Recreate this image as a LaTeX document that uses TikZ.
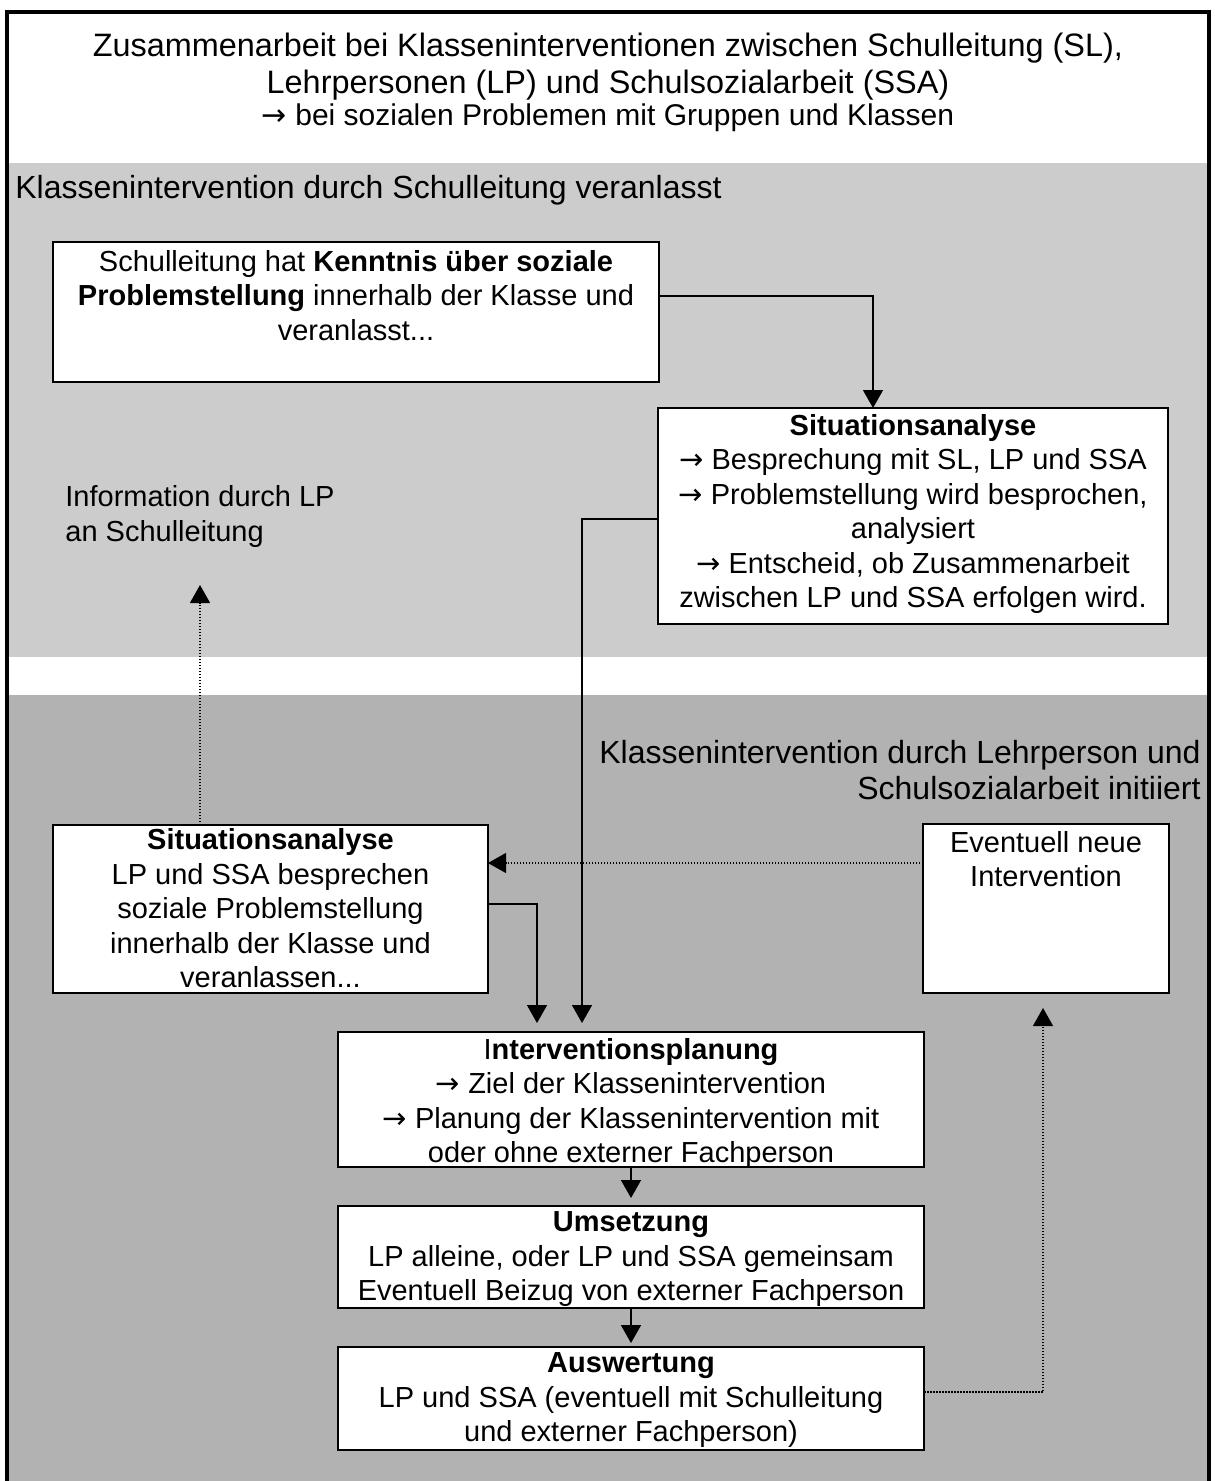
\documentclass[tikz,border=0pt]{standalone}
\usepackage{fontspec}
\setmainfont{Liberation Sans}
\newfontfamily\arrowfont{DejaVu Sans}
\usetikzlibrary{arrows.meta}
\definecolor{paleband}{gray}{0.8}
\definecolor{darkband}{gray}{0.7}
\newcommand{\bodyfont}{\fontsize{14.5}{17.2}\selectfont}
\newcommand{\headfont}{\fontsize{16}{17.5}\selectfont}
\newcommand{\pfeil}{{\arrowfont →}}
\tikzset{box/.style={draw,line width=1pt,fill=white,anchor=north west,outer sep=0pt,inner xsep=2pt,inner ysep=0pt,align=center,font=\bodyfont},
  flow/.style={line width=0.75pt,-{Triangle[length=9pt,width=10pt]}},
  hint/.style={line width=0.6pt,dash pattern=on 0.75pt off 0.75pt,-{Triangle[length=9pt,width=10pt]}},
  lbl/.style={inner sep=0pt,font=\headfont}}

\begin{document}
\begin{tikzpicture}[x=0.5pt,y=-0.5pt]
\useasboundingbox (0,0) rectangle (1214,1481);
\fill[white] (0,0) rectangle (1214,1481);
\fill[paleband] (7,163) rectangle (1209,657); \fill[darkband] (7,695) rectangle (1209,1490);
\draw[line width=2pt] (7,1490) -- (7,12) -- (1209,12) -- (1209,1490);
% headings
\node[lbl,anchor=base,align=center,font=\fontsize{16.2}{17.5}\selectfont] (title) at (608,126) {Zusammenarbeit bei Klasseninterventionen zwischen Schulleitung (SL),\\[1pt]Lehrpersonen (LP) und Schulsozialarbeit (SSA)\\[-1.5pt]{\fontsize{15}{16}\selectfont \pfeil{} bei sozialen Problemen mit Gruppen und Klassen}};
\node[lbl,anchor=base west] (schulleitung) at (15,199) {Klassenintervention durch Schulleitung veranlasst};
\node[lbl,anchor=base east,align=right] (initiiert) at (1201,799) {Klassenintervention durch Lehrperson und\\[0.5pt]Schulsozialarbeit initiiert};
\node[lbl,anchor=base west,align=left,font=\bodyfont] (info) at (65,541) {Information durch LP\\an Schulleitung};
\coordinate (infotip) at (200,585);
% boxes
\node[box,minimum width=303pt,text height=49.2pt,text depth=20.8pt] (kenntnis) at (53,242) {Schulleitung hat \textbf{Kenntnis über soziale}\\\textbf{Problemstellung} innerhalb der Klasse und\\veranlasst...};
\node[box,minimum width=255pt,text height=99.7pt,text depth=8.3pt] (analyseSL) at (658,408) {\textbf{Situationsanalyse}\\\pfeil{} Besprechung mit SL, LP und SSA\\\pfeil{} Problemstellung wird besprochen,\\analysiert\\\pfeil{} Entscheid, ob Zusammenarbeit\\zwischen LP und SSA erfolgen wird.};
\node[box,minimum width=217.5pt,text height=81.2pt,text depth=2.8pt] (analyseLP) at (53,825) {\textbf{Situationsanalyse}\\LP und SSA besprechen\\soziale Problemstellung\\innerhalb der Klasse und\\veranlassen...};
\node[box,minimum width=123pt,text height=31.2pt,text depth=53.3pt] (neu) at (923,824) {Eventuell neue\\Intervention};
\node[box,minimum width=293pt,text height=65.2pt,text depth=2.3pt] (planung) at (338,1032) {I\textbf{nterventionsplanung}\\\pfeil{} Ziel der Klassenintervention\\\pfeil{} Planung der Klassenintervention mit\\oder ohne externer Fachperson};
\node[box,minimum width=293pt,text height=47.2pt,text depth=3.8pt] (umsetzung) at (338,1206) {\textbf{Umsetzung}\\LP alleine, oder LP und SSA gemeinsam\\Eventuell Beizug von externer Fachperson};
\node[box,minimum width=293pt,text height=47.2pt,text depth=4.3pt] (auswertung) at (338,1347) {\textbf{Auswertung}\\LP und SSA (eventuell mit Schulleitung\\und externer Fachperson)};
% connectors
\draw[flow] (kenntnis.east |- 0,296) -| (analyseSL.north -| 873,0);
\draw[flow,shorten >=4.5pt] (analyseSL.west |- 0,519) -| (planung.north -| 582,0);
\draw[flow,shorten >=4.5pt] (analyseLP.east |- 0,904) -| (planung.north -| 537,0);
\draw[hint] (neu.west |- 0,863) -- (analyseLP.east |- 0,863);
\draw[hint] (analyseLP.north -| 200,0) -- (infotip);
\draw[flow,shorten >=4pt] (planung.south) -- (umsetzung.north);
\draw[flow,shorten >=2pt] (umsetzung.south) -- (auswertung.north);
\draw[hint,shorten >=7.5pt] (auswertung.east |- 0,1392) -| (neu.south -| 1043,0);
\end{tikzpicture}
\end{document}
